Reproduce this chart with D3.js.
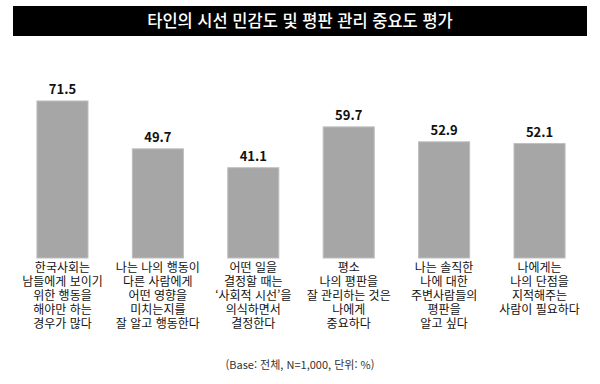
<!DOCTYPE html>
<html lang="ko">
<head>
<meta charset="UTF-8">
<script src="https://d3js.org/d3.v7.min.js"></script>
<style>
  body { margin: 0; background: #fff; }
  text { font-family: "Noto Sans CJK KR", "Noto Sans", sans-serif; }
</style>
</head>
<body>
<svg width="600" height="384"></svg>
<script>
    var titleText = "타인의 시선 민감도 및 평판 관리 중요도 평가";
    var categories = [
        ["한국사회는", "남들에게 보이기", "위한 행동을", "해야만 하는", "경우가 많다"],
        ["나는 나의 행동이", "다른 사람에게", "어떤 영향을", "미치는지를", "잘 알고 행동한다"],
        ["어떤 일을", "결정할 때는", "‘사회적 시선’을", "의식하면서", "결정한다"],
        ["평소", "나의 평판을", "잘 관리하는 것은", "나에게", "중요하다"],
        ["나는 솔직한", "나에 대한", "주변사람들의", "평판을", "알고 싶다"],
        ["나에게는", "나의 단점을", "지적해주는", "사람이 필요하다"]
    ];
    var values = [71.5, 49.7, 41.1, 59.7, 52.9, 52.1];
    var footnote = "(Base: 전체, N=1,000, 단위: %)";

    var svg = d3.select("svg");
    var baseY = 258;

    // title bar
    svg.append("rect")
        .attr("x", 13).attr("y", 6)
        .attr("width", 574).attr("height", 30)
        .attr("fill", "#000");
    svg.append("text")
        .attr("x", 300).attr("y", 21)
        .attr("dy", "0.35em")
        .attr("text-anchor", "middle")
        .attr("fill", "#fff")
        .attr("font-size", 16.5)
        .attr("font-weight", 500)
        .text(titleText);

    var xs = d3.scaleBand()
        .domain(d3.range(values.length))
        .range([15, 587])
        .paddingInner(0.465)
        .paddingOuter(0.23);
    var ys = d3.scaleLinear().domain([0, 100]).range([baseY, baseY - 219.6]);

    svg.append("g").selectAll("rect")
        .data(values).enter().append("rect")
        .attr("x", (d, i) => xs(i))
        .attr("y", d => ys(d))
        .attr("width", xs.bandwidth())
        .attr("height", d => baseY - ys(d))
        .attr("fill", "#a6a6a6")
        .attr("stroke", "#bdbdbd")
        .attr("stroke-width", 1);

    svg.append("g").selectAll("text")
        .data(values).enter().append("text")
        .attr("x", (d, i) => xs(i) + xs.bandwidth() / 2)
        .attr("y", d => ys(d) - 7)
        .attr("text-anchor", "middle")
        .attr("font-size", 13)
        .attr("font-weight", "bold")
        .attr("fill", "#111")
        .text(d => d.toFixed(1));

    // category labels, one text per label with line tspans
    var lab = svg.append("g").selectAll("text")
        .data(categories).enter().append("text")
        .attr("text-anchor", "middle")
        .attr("font-size", 12)
        .attr("fill", "#111");
    lab.selectAll("tspan")
        .data((d, i) => d.map(s => ({ s: s, i: i })))
        .enter().append("tspan")
        .attr("x", d => xs(d.i) + xs.bandwidth() / 2)
        .attr("y", (d, j) => 272 + j * 14)
        .text(d => d.s);

    svg.append("text")
        .attr("x", 300).attr("y", 369)
        .attr("text-anchor", "middle")
        .attr("font-size", 11)
        .attr("fill", "#333")
        .text(footnote);
</script>
</body>
</html>
